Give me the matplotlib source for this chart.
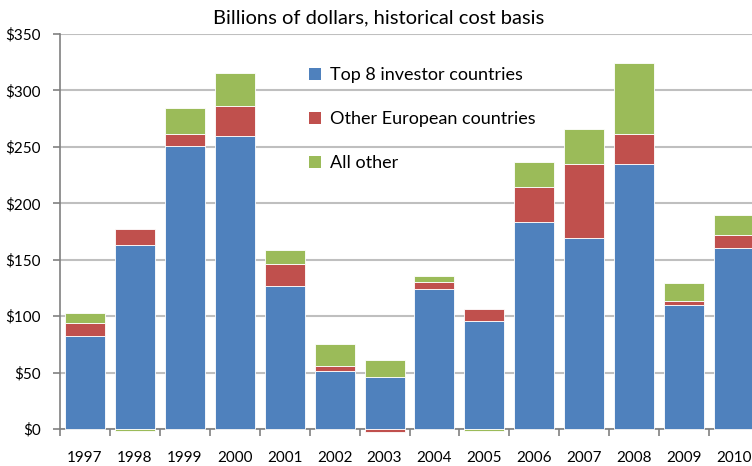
import matplotlib.pyplot as plt
import numpy as np
from matplotlib.patches import Patch
from matplotlib.ticker import FuncFormatter, FixedLocator

years = ['1997', '1998', '1999', '2000', '2001', '2002', '2003', '2004',
         '2005', '2006', '2007', '2008', '2009', '2010']
top8 = [82, 163, 251, 260, 127, 51, 46, 124, 96, 183, 169, 234.5, 109.5, 160]
other_eu = [12, 14, 10, 26, 19, 5, -3, 6.5, 10.5, 31, 66, 27, 4, 12]
all_other = [9, -2, 23, 29, 13, 19, 15, 5, -2, 23, 31, 63, 16, 18]

names = ['Top 8 investor countries', 'Other European countries', 'All other']
colors = ['#4f81bd', '#c0504d', '#9bbb59']

plt.rcParams['font.family'] = ['Lato', 'DejaVu Sans']

fig = plt.figure(figsize=(7.52, 4.66), dpi=100)
ax = fig.add_axes([60/752, 1-429/466, 699/752, 395/466])

x = np.arange(len(years))
pos_bot = np.zeros(len(years))
neg_bot = np.zeros(len(years))
for vals, c in zip([top8, other_eu, all_other], colors):
    v = np.array(vals, dtype=float)
    bot = np.where(v >= 0, pos_bot, neg_bot)
    ax.bar(x, v, width=0.8, bottom=bot, color=c, edgecolor='white',
           linewidth=0.6, zorder=3, clip_on=False)
    pos_bot += np.where(v >= 0, v, 0)
    neg_bot += np.where(v < 0, v, 0)

ax.set_xlim(-0.5, len(years) - 0.5)
ax.set_ylim(0, 350)
ax.set_yticks(range(0, 351, 50))
ax.yaxis.set_major_formatter(FuncFormatter(lambda v, p: '$%d' % v))
ax.grid(axis='y', color='#bfbfbf', linewidth=1.5, zorder=0)

ax.set_xticks(x)
ax.set_xticklabels(years)
ax.xaxis.set_minor_locator(FixedLocator(np.arange(-0.5, len(years), 1)))
ax.tick_params(axis='x', which='major', length=0, pad=16, labelsize=11)
ax.tick_params(axis='x', which='minor', length=5, width=1.2, color='#808080')
ax.tick_params(axis='y', length=5, width=1.2, color='#808080', pad=9,
               labelsize=11)

for s in ['top', 'right']:
    ax.spines[s].set_visible(False)
for s in ['left', 'bottom']:
    ax.spines[s].set_color('#808080')
    ax.spines[s].set_linewidth(1.2)
    ax.spines[s].set_zorder(2)

fig.text(379/752, 1-18/466, 'Billions of dollars, historical cost basis',
         ha='center', va='center', fontsize=14.5)

handles = [Patch(facecolor=c, edgecolor='none') for c in colors]
fig.legend(handles, names, loc='upper left', bbox_to_anchor=(293/752, 1-51/466),
           frameon=False, fontsize=13, handlelength=0.65, handleheight=0.65,
           handletextpad=0.5, labelspacing=1.55)

fig.savefig('out.png', dpi=100)
